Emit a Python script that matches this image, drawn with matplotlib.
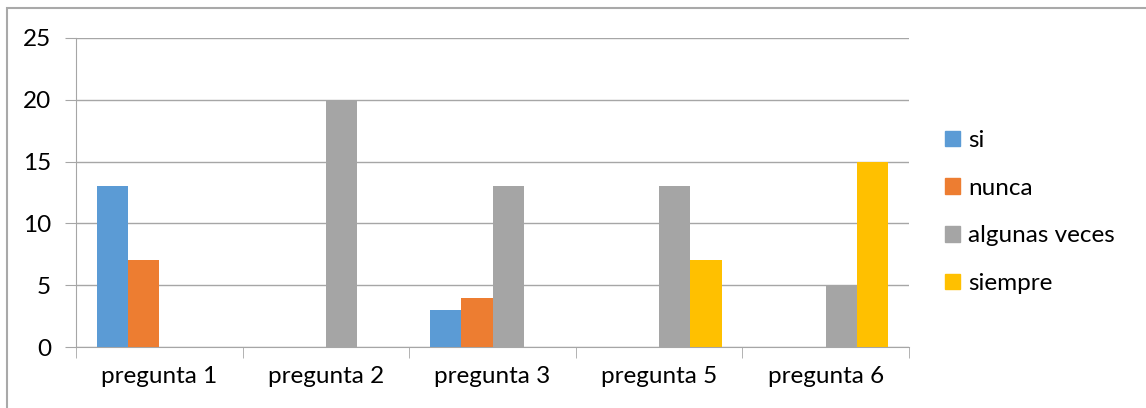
import matplotlib
matplotlib.use("Agg")
import matplotlib.pyplot as plt
import matplotlib.patches as mpatches
import numpy as np

preguntas = ["pregunta 1", "pregunta 2", "pregunta 3", "pregunta 5", "pregunta 6"]
series = ["si", "nunca", "algunas veces", "siempre"]
si = [13, 0, 3, 0, 0]
nunca = [7, 0, 4, 0, 0]
algunas_veces = [0, 20, 13, 13, 5]
siempre = [0, 0, 0, 7, 15]
colores = ["#5B9BD5", "#ED7D31", "#A5A5A5", "#FFC000"]

plt.rcParams["font.family"] = ["Lato", "DejaVu Sans"]
W, H = 1146, 408
fig = plt.figure(figsize=(W / 100, H / 100), dpi=100)
ax = fig.add_axes([76 / W, (H - 347) / H, (909 - 76) / W, (347 - 38) / H])

x = np.arange(len(preguntas))
ancho = 0.1875
valores = [si, nunca, algunas_veces, siempre]
for i, (nombre, vals, c) in enumerate(zip(series, valores, colores)):
    ax.bar(x + (i - 1.5) * ancho, vals, ancho, color=c, label=nombre, zorder=3)

gris = "#A6A6A6"
ax.set_xlim(-0.5, len(preguntas) - 0.5)
ax.set_ylim(0, 25)
ax.set_yticks(range(0, 26, 5))
ax.yaxis.grid(True, color=gris, linewidth=1)
ax.set_axisbelow(True)
for s in ["top", "right"]:
    ax.spines[s].set_visible(False)
ax.spines["left"].set_color(gris)
ax.spines["bottom"].set_color(gris)
ax.tick_params(axis="y", length=8, color=gris, pad=10, labelsize=17.5)
ax.set_xticks(x)
ax.set_xticklabels(preguntas)
ax.set_xticks(np.arange(-0.5, len(preguntas)), minor=True)
ax.tick_params(axis="x", which="major", length=0, pad=14, labelsize=17.5)
ax.tick_params(axis="x", which="minor", length=8, color=gris)

handles = [mpatches.Patch(color=c) for c in colores]
fig.legend(handles, series, loc="upper left", bbox_to_anchor=(945 / W, 1 - 130 / H),
           frameon=False, fontsize=17.5, handlelength=0.6, handleheight=0.6,
           handletextpad=0.35, labelspacing=1.1, borderaxespad=0, borderpad=0)

fig.patches.append(mpatches.Rectangle((7 / W, -0.1), 1.2, (H - 8) / H + 0.1,
                                      transform=fig.transFigure, fill=False,
                                      edgecolor="#A9A9A9", linewidth=1.5))

fig.savefig("out.png", dpi=100)
